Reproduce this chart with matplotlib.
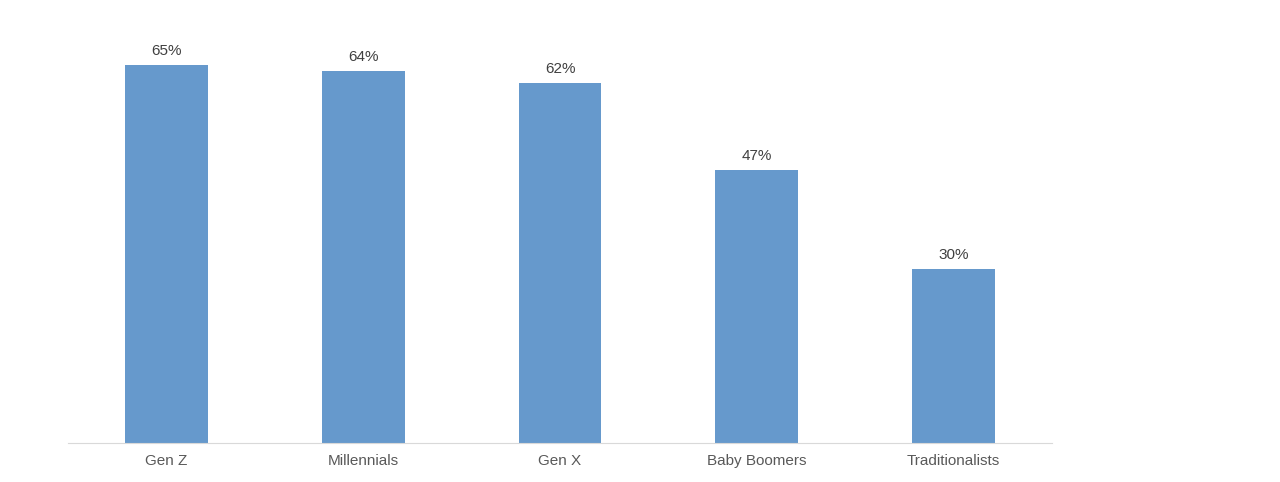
import matplotlib.pyplot as plt

categorias = ["Gen Z", "Millennials", "Gen X", "Baby Boomers", "Traditionalists"]
valores = [65, 64, 62, 47, 30]

plt.rcParams["font.family"] = "Liberation Sans"

fig = plt.figure(figsize=(12.8, 4.82), dpi=100)
ax = fig.add_axes([68 / 1280, 39 / 482, 984 / 1280, 407 / 482])

x = range(len(categorias))
ax.bar(x, valores, width=0.42, color="#6699CC")
for xi, v in zip(x, valores):
    ax.text(xi, v + 1.2, f"{v}%", ha="center", va="bottom", fontsize=11, color="#404040")

ax.set_xlim(-0.5, len(categorias) - 0.5)
ax.set_ylim(0, 70)
ax.set_xticks(list(x))
ax.set_xticklabels(categorias, fontsize=11, color="#595959")
ax.tick_params(axis="x", length=0, pad=8)
ax.set_yticks([])
for s in ["top", "right", "left"]:
    ax.spines[s].set_visible(False)
ax.spines["bottom"].set_color("#D9D9D9")

fig.savefig("out.png", dpi=100)
